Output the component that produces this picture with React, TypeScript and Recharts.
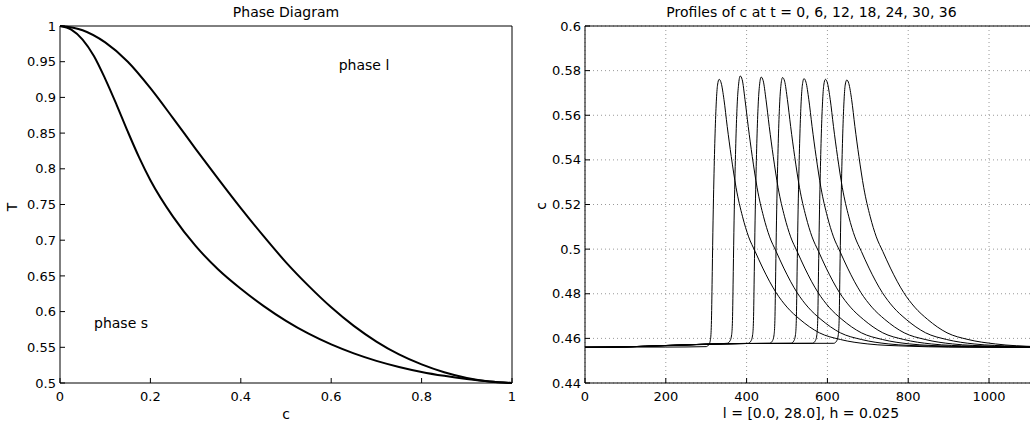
import React from 'react';
import { LineChart, Line, XAxis, YAxis, CartesianGrid } from 'recharts';

// phase diagram: the two boundary curves T(c)
const upperC = [0, 0.05, 0.1, 0.15, 0.2, 0.25, 0.3, 0.35, 0.4, 0.45, 0.5, 0.55, 0.6, 0.65, 0.7, 0.75, 0.8, 0.85, 0.9, 0.95, 1];
const upperT = [1.0, 0.994, 0.977, 0.95, 0.913, 0.871, 0.828, 0.786, 0.745, 0.706, 0.669, 0.636, 0.606, 0.58, 0.558, 0.54, 0.526, 0.515, 0.507, 0.502, 0.5];
const lowerC = [0, 0.025, 0.05, 0.075, 0.1, 0.125, 0.15, 0.175, 0.2, 0.25, 0.3, 0.35, 0.4, 0.45, 0.5, 0.55, 0.6, 0.65, 0.7, 0.75, 0.8, 0.85, 0.9, 0.95, 1];
const lowerT = [1.0, 0.995, 0.981, 0.958, 0.926, 0.89, 0.852, 0.816, 0.784, 0.733, 0.692, 0.659, 0.632, 0.608, 0.587, 0.569, 0.554, 0.5415, 0.531, 0.5225, 0.5155, 0.51, 0.5055, 0.502, 0.5];

const phaseXTicks = [0, 0.2, 0.4, 0.6, 0.8, 1];
const phaseYTicks = [0.5, 0.55, 0.6, 0.65, 0.7, 0.75, 0.8, 0.85, 0.9, 0.95, 1];

// profiles of c, [x, c] pairs
const profile0 = [
  [0, 0.4561], [200, 0.4561], [300, 0.4563], [307, 0.4573], [311, 0.4601], [313, 0.468], [315, 0.49], [317, 0.513], [319, 0.531],
  [322, 0.552], [325, 0.566], [328, 0.5735], [332, 0.5761], [337, 0.5745], [344, 0.567], [352, 0.555], [362, 0.5415], [374, 0.5275],
  [390, 0.5145], [405, 0.5055], [421, 0.499], [440, 0.4915], [473, 0.4805], [500, 0.474], [532, 0.4685], [580, 0.4625], [632, 0.4595],
  [700, 0.4575], [800, 0.4565], [900, 0.4561], [1120, 0.456],
];
const profile6 = [
  [0, 0.456], [100, 0.4562], [200, 0.4567], [300, 0.4573], [352, 0.4578], [359, 0.4589], [363, 0.4617], [365, 0.468], [367, 0.49],
  [369, 0.513], [371, 0.531], [374, 0.552], [377, 0.566], [380, 0.5735], [384, 0.5776], [389, 0.576], [396, 0.567], [404, 0.555],
  [414, 0.5415], [426, 0.5275], [442, 0.5145], [457, 0.5055], [473, 0.499], [492, 0.4915], [525, 0.4805], [552, 0.474], [584, 0.4685],
  [632, 0.4625], [684, 0.4595], [752, 0.4575], [852, 0.4565], [952, 0.4561], [1120, 0.456],
];
const profile12 = [
  [0, 0.456], [100, 0.4562], [200, 0.4568], [300, 0.4574], [404, 0.4578], [411, 0.4589], [415, 0.4617], [417, 0.468], [419, 0.49],
  [421, 0.513], [423, 0.531], [426, 0.552], [429, 0.566], [432, 0.5735], [436, 0.5771], [441, 0.5755], [448, 0.567], [456, 0.555],
  [466, 0.5415], [478, 0.5275], [494, 0.5145], [509, 0.5055], [525, 0.499], [544, 0.4915], [577, 0.4805], [604, 0.474], [636, 0.4685],
  [684, 0.4625], [736, 0.4595], [804, 0.4575], [904, 0.4565], [1004, 0.4561], [1120, 0.456],
];
const profile18 = [
  [0, 0.456], [100, 0.4562], [200, 0.4568], [300, 0.4574], [400, 0.4577], [457, 0.4578], [464, 0.4589], [468, 0.4617], [470, 0.468],
  [472, 0.49], [474, 0.513], [476, 0.531], [479, 0.552], [482, 0.566], [485, 0.5735], [489, 0.5769], [494, 0.5753], [501, 0.567],
  [509, 0.555], [519, 0.5415], [531, 0.5275], [547, 0.5145], [562, 0.5055], [578, 0.499], [597, 0.4915], [630, 0.4805], [657, 0.474],
  [689, 0.4685], [737, 0.4625], [789, 0.4595], [857, 0.4575], [957, 0.4565], [1057, 0.4561], [1120, 0.456],
];
const profile24 = [
  [0, 0.456], [100, 0.4562], [200, 0.4568], [300, 0.4574], [400, 0.4577], [510, 0.4578], [517, 0.4589], [521, 0.4617], [523, 0.468],
  [525, 0.49], [527, 0.513], [529, 0.531], [532, 0.552], [535, 0.566], [538, 0.5735], [542, 0.5764], [547, 0.5748], [554, 0.567],
  [562, 0.555], [572, 0.5415], [584, 0.5275], [600, 0.5145], [615, 0.5055], [631, 0.499], [650, 0.4915], [683, 0.4805], [710, 0.474],
  [742, 0.4685], [790, 0.4625], [842, 0.4595], [910, 0.4575], [1010, 0.4565], [1120, 0.4561],
];
const profile30 = [
  [0, 0.456], [100, 0.4562], [200, 0.4568], [300, 0.4574], [400, 0.4577], [563, 0.4578], [570, 0.4589], [574, 0.4617], [576, 0.468],
  [578, 0.49], [580, 0.513], [582, 0.531], [585, 0.552], [588, 0.566], [591, 0.5735], [595, 0.5761], [600, 0.5745], [607, 0.567],
  [615, 0.555], [625, 0.5415], [637, 0.5275], [653, 0.5145], [668, 0.5055], [684, 0.499], [703, 0.4915], [736, 0.4805], [763, 0.474],
  [795, 0.4685], [843, 0.4625], [895, 0.4595], [963, 0.4575], [1063, 0.4565], [1120, 0.4562],
];
const profile36 = [
  [0, 0.456], [100, 0.4562], [200, 0.4568], [300, 0.4574], [400, 0.4577], [616, 0.4578], [623, 0.4589], [627, 0.4617], [629, 0.468],
  [631, 0.49], [633, 0.513], [635, 0.531], [638, 0.552], [641, 0.566], [644, 0.5735], [648, 0.5758], [653, 0.5742], [660, 0.567],
  [668, 0.555], [678, 0.5415], [690, 0.5275], [706, 0.5145], [721, 0.5055], [737, 0.499], [756, 0.4915], [789, 0.4805], [816, 0.474],
  [848, 0.4685], [896, 0.4625], [948, 0.4595], [1016, 0.4575], [1120, 0.4563],
];
const profiles = [profile0, profile6, profile12, profile18, profile24, profile30, profile36];

const profXTicks = [0, 200, 400, 600, 800, 1000];
const profYTicks = [0.44, 0.46, 0.48, 0.5, 0.52, 0.54, 0.56, 0.58, 0.6];

const FONT = '"DejaVu Sans", sans-serif';
const TL = 5; // inward tick length

const upperData = upperC.map((c, i) => ({ c, T: upperT[i] }));
const lowerData = lowerC.map((c, i) => ({ c, T: lowerT[i] }));
const profileData = profiles.map((p) => p.map(([x, c]) => ({ x, c })));

const BottomTick = (props: any) => {
  const { x, y, payload } = props;
  const axisY = y - 9;
  return (
    <g>
      <line x1={x} y1={axisY} x2={x} y2={axisY - TL} stroke="#000" />
      <text x={x} y={y} dy="0.71em" textAnchor="middle" fontSize={13} fontFamily={FONT} fill="#000">
        {String(payload.value)}
      </text>
    </g>
  );
};

const LeftTick = (props: any) => {
  const { x, y, payload } = props;
  const axisX = x + 4;
  return (
    <g>
      <line x1={axisX} y1={y} x2={axisX + TL} y2={y} stroke="#000" />
      <text x={x} y={y} dy="0.355em" textAnchor="end" fontSize={13} fontFamily={FONT} fill="#000">
        {String(payload.value)}
      </text>
    </g>
  );
};

const TopTick = (props: any) => {
  const { x, y } = props;
  return <line x1={x} y1={y} x2={x} y2={y + TL} stroke="#000" />;
};

const RightTick = (props: any) => {
  const { x, y } = props;
  return <line x1={x} y1={y} x2={x - TL} y2={y} stroke="#000" />;
};

const txt = (s: string, left: number, top: number, size = 14, rotate = false): React.ReactNode => (
  <div
    style={{
      position: 'absolute',
      left,
      top,
      fontSize: size,
      lineHeight: 1,
      whiteSpace: 'nowrap',
      transform: rotate ? 'translate(-50%, -50%) rotate(-90deg)' : 'translate(-50%, -50%)',
    }}
  >
    {s}
  </div>
);

export default function App() {
  return (
    <div
      style={{
        position: 'absolute',
        left: 0,
        top: 0,
        width: 1030,
        height: 429,
        overflow: 'hidden',
        background: '#fff',
        fontFamily: FONT,
        color: '#000',
      }}
    >
      <div style={{ position: 'absolute', left: 0, top: 0 }}>
        <LineChart width={530} height={429} margin={{ top: 25, right: 17, bottom: 16, left: 0 }}>
          <XAxis
            dataKey="c"
            type="number"
            domain={[0, 1]}
            ticks={phaseXTicks}
            height={30}
            stroke="#000"
            tickLine={false}
            tickSize={0}
            tickMargin={9}
            tick={(p: any) => <BottomTick {...p} />}
          />
          <XAxis
            xAxisId="top"
            orientation="top"
            dataKey="c"
            type="number"
            domain={[0, 1]}
            ticks={phaseXTicks}
            height={1}
            stroke="#000"
            tickLine={false}
            tickSize={0}
            tickMargin={0}
            tick={(p: any) => <TopTick {...p} />}
          />
          <YAxis
            type="number"
            domain={[0.5, 1]}
            ticks={phaseYTicks}
            width={60}
            stroke="#000"
            tickLine={false}
            tickSize={0}
            tickMargin={4}
            tick={(p: any) => <LeftTick {...p} />}
          />
          <YAxis
            yAxisId="right"
            orientation="right"
            type="number"
            domain={[0.5, 1]}
            ticks={phaseYTicks}
            width={1}
            stroke="#000"
            tickLine={false}
            tickSize={0}
            tickMargin={0}
            tick={(p: any) => <RightTick {...p} />}
          />
          <Line data={upperData} dataKey="T" type="monotone" stroke="#000" strokeWidth={2} dot={false} isAnimationActive={false} />
          <Line data={lowerData} dataKey="T" type="monotone" stroke="#000" strokeWidth={2} dot={false} isAnimationActive={false} />
        </LineChart>
      </div>

      <div style={{ position: 'absolute', left: 525, top: 0 }}>
        <LineChart width={530} height={429} margin={{ top: 25, right: 17.5, bottom: 16, left: 0 }}>
          <CartesianGrid stroke="#999" strokeDasharray="1 3" />
          <XAxis
            dataKey="x"
            type="number"
            domain={[0, 1120]}
            ticks={profXTicks}
            height={30}
            stroke="#000"
            tickLine={false}
            tickSize={0}
            tickMargin={9}
            tick={(p: any) => <BottomTick {...p} />}
          />
          <XAxis
            xAxisId="top"
            orientation="top"
            dataKey="x"
            type="number"
            domain={[0, 1120]}
            ticks={profXTicks}
            height={1}
            stroke="#000"
            tickLine={false}
            tickSize={0}
            tickMargin={0}
            tick={(p: any) => <TopTick {...p} />}
          />
          <YAxis
            type="number"
            domain={[0.44, 0.6]}
            ticks={profYTicks}
            width={60}
            stroke="#000"
            tickLine={false}
            tickSize={0}
            tickMargin={4}
            tick={(p: any) => <LeftTick {...p} />}
          />
          {profileData.map((d, i) => (
            <Line
              key={i}
              data={d}
              dataKey="c"
              type="monotone"
              stroke="#000"
              strokeWidth={1}
              dot={false}
              isAnimationActive={false}
            />
          ))}
        </LineChart>
      </div>

      {txt('Phase Diagram', 286, 11.5)}
      {txt('c', 286, 413.5)}
      {txt('T', 12, 207, 14, true)}
      {txt('phase l', 364, 64.5)}
      {txt('phase s', 121, 322.5)}

      {txt('Profiles of c at t = 0, 6, 12, 18, 24, 30, 36', 811.5, 11.5)}
      {txt('c', 541, 206, 14, true)}
      {txt('l = [0.0, 28.0], h = 0.025', 811, 413)}
    </div>
  );
}
